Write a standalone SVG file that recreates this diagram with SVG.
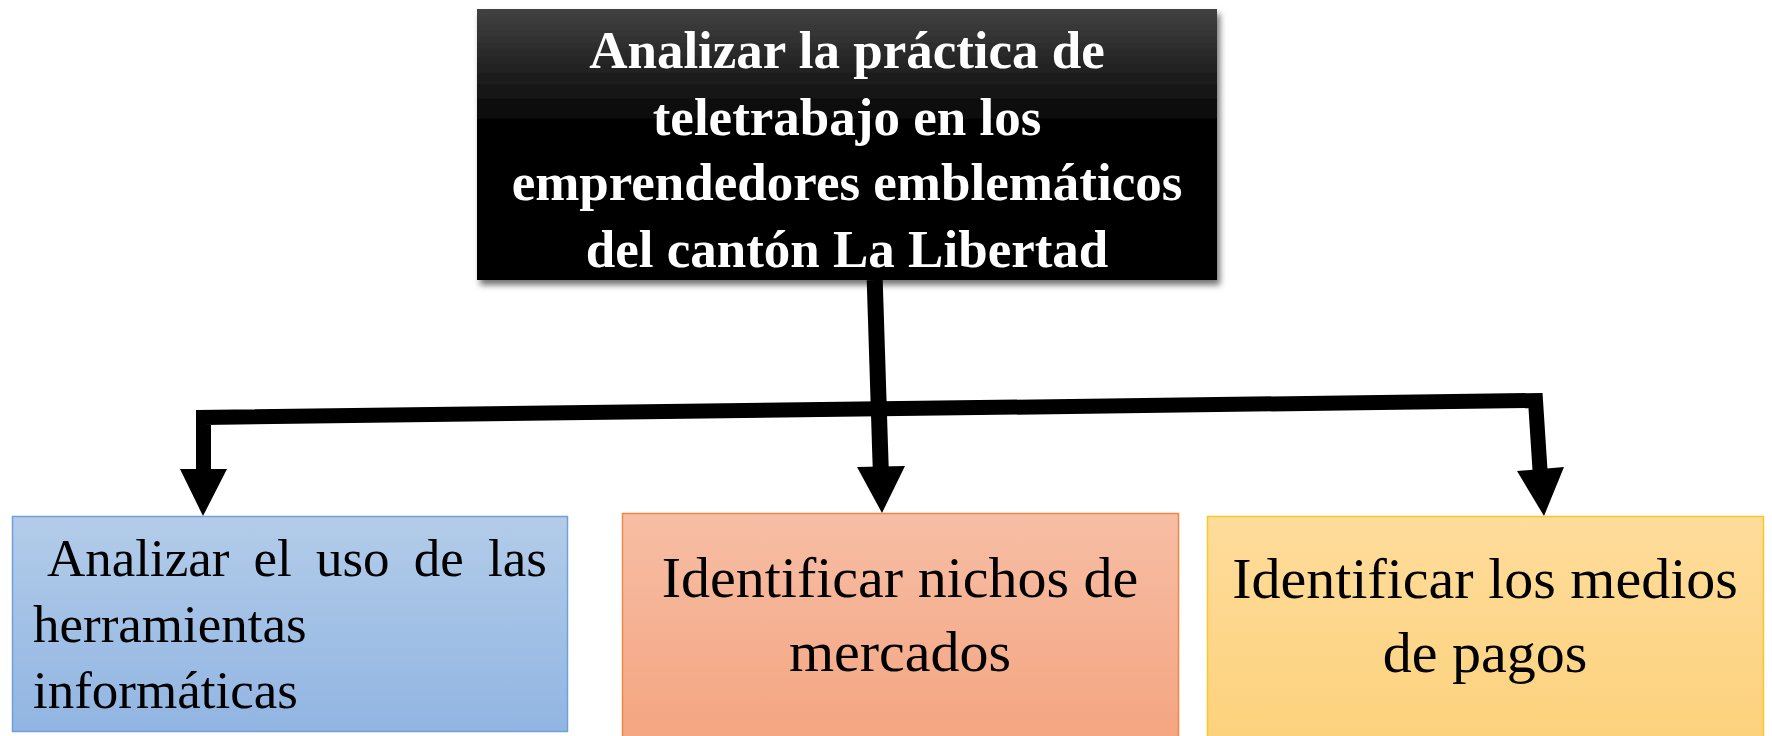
<svg xmlns="http://www.w3.org/2000/svg" width="1772" height="736" viewBox="0 0 1772 736">
  <defs>
    <linearGradient id="gTop" x1="0" y1="0" x2="0" y2="1">
      <stop offset="0" stop-color="#424242"/>
      <stop offset="0.45" stop-color="#000000"/>
      <stop offset="1" stop-color="#000000"/>
    </linearGradient>
    <linearGradient id="gBlue" x1="0" y1="0" x2="0" y2="1">
      <stop offset="0" stop-color="#b3cce9"/>
      <stop offset="1" stop-color="#91b5e2"/>
    </linearGradient>
    <linearGradient id="gOrange" x1="0" y1="0" x2="0" y2="1">
      <stop offset="0" stop-color="#f7bea5"/>
      <stop offset="1" stop-color="#f4a37e"/>
    </linearGradient>
    <linearGradient id="gGold" x1="0" y1="0" x2="0" y2="1">
      <stop offset="0" stop-color="#fedc9b"/>
      <stop offset="1" stop-color="#fdd17a"/>
    </linearGradient>
    <filter id="shadow" x="-5%" y="-5%" width="112%" height="115%">
      <feDropShadow dx="3" dy="5" stdDeviation="3" flood-color="#000" flood-opacity="0.55"/>
    </filter>
    <style>
      .title { font-family: "Liberation Serif", "Times New Roman", serif; font-weight: bold; font-size: 53px; fill: #ffffff; text-anchor: middle; }
      .lbl { font-family: "Liberation Serif", "Times New Roman", serif; fill: #000000; }
      .conn { fill: none; stroke: #000000; stroke-linejoin: miter; stroke-linecap: butt; }
      .head { fill: #000000; stroke: none; }
    </style>
  </defs>
  <rect width="1772" height="736" fill="#ffffff"/>

  <g id="connectors">
    <path class="conn" stroke-width="16" d="M874.7,280 L880.7,468"/>
    <path class="conn" stroke-width="15" d="M203.5,470 L203.5,417.5 L1535.5,400.5 L1540,470"/>
    <polygon class="head" points="857,467 905,466 882,513"/>
    <polygon class="head" points="180,469 227,469 203,516"/>
    <polygon class="head" points="1517,471 1564,467 1544,516"/>
  </g>

  <g id="node-top">
    <rect x="477" y="9" width="740" height="271" fill="url(#gTop)" filter="url(#shadow)"/>
    <text class="title" x="847" y="68">Analizar la práctica de</text>
    <text class="title" x="847" y="135">teletrabajo en los</text>
    <text class="title" x="847" y="200">emprendedores emblemáticos</text>
    <text class="title" x="847" y="267">del cantón La Libertad</text>
  </g>

  <g id="node-left">
    <rect x="12.5" y="516.5" width="555" height="215" fill="url(#gBlue)" stroke="#70a0d8" stroke-width="1.5"/>
    <text class="lbl" font-size="53" x="47" y="576" word-spacing="10.9">Analizar el uso de las</text>
    <text class="lbl" font-size="53" x="33" y="642">herramientas</text>
    <text class="lbl" font-size="53" x="33" y="708">informáticas</text>
  </g>

  <g id="node-middle">
    <rect x="622.5" y="513.5" width="556" height="240" fill="url(#gOrange)" stroke="#ee8844" stroke-width="1.5"/>
    <text class="lbl" font-size="58" x="900" y="597" text-anchor="middle">Identificar nichos de</text>
    <text class="lbl" font-size="58" x="900" y="671" text-anchor="middle">mercados</text>
  </g>

  <g id="node-right">
    <rect x="1207.5" y="516.5" width="556" height="240" fill="url(#gGold)" stroke="#ffc526" stroke-width="1.5"/>
    <text class="lbl" font-size="58" x="1485" y="598" text-anchor="middle">Identificar los medios</text>
    <text class="lbl" font-size="58" x="1485" y="672" text-anchor="middle">de pagos</text>
  </g>
</svg>
